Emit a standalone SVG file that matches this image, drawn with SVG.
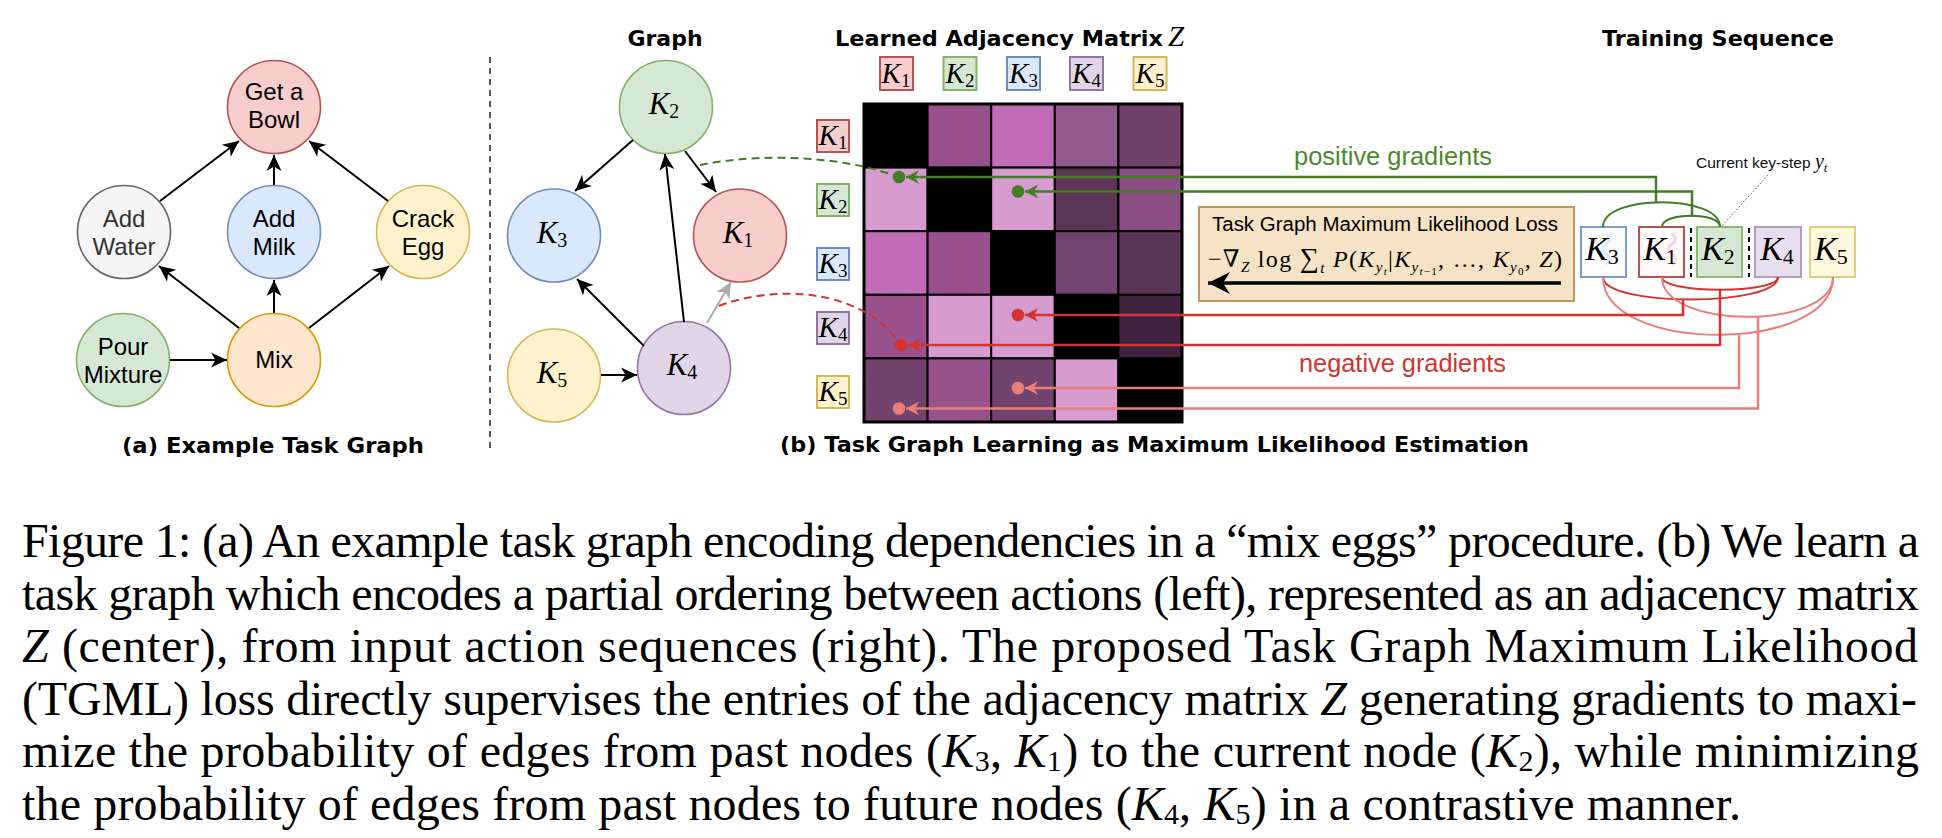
<svg xmlns="http://www.w3.org/2000/svg" width="1942" height="838" viewBox="0 0 1942 838">
<style>
.nt{font-family:"Liberation Sans",Arial,sans-serif;font-size:24px;text-anchor:middle;fill:#000}
.ttl{font-family:"DejaVu Sans",Verdana,sans-serif;font-weight:bold;font-size:22px;fill:#000}
.k{font-family:"Liberation Serif","DejaVu Serif",serif;font-style:italic;fill:#000;text-anchor:middle}
.sb{font-style:normal}
.ki{font-style:italic}
.cap{font-family:"Liberation Serif","Times New Roman",serif;font-size:48px;fill:#000}
.edge{fill:none;stroke:#000;stroke-width:2}
.c-red{fill:#f8cecc;stroke:#b85450;stroke-width:1.6}
.c-gray{fill:#f5f5f5;stroke:#666666;stroke-width:1.6}
.c-blue{fill:#dae8fc;stroke:#6c8ebf;stroke-width:1.6}
.c-yel{fill:#fff2cc;stroke:#d6b656;stroke-width:1.6}
.c-grn{fill:#d5e8d4;stroke:#82b366;stroke-width:1.6}
.c-org{fill:#ffe6cc;stroke:#d79b00;stroke-width:1.6}
.c-pur{fill:#e1d5e7;stroke:#9673a6;stroke-width:1.6}
.lb{stroke-width:2}
.cell{stroke:#000;stroke-width:2}
.g-line{fill:none;stroke:#437d24;stroke-width:2.5}
.r-line{fill:none;stroke:#d33430;stroke-width:2.5}
.s-line{fill:none;stroke:#ea7e79;stroke-width:2.5}
.g-arc{fill:none;stroke:#437d24;stroke-width:2}
.r-arc{fill:none;stroke:#d33430;stroke-width:2}
.s-arc{fill:none;stroke:#ea7e79;stroke-width:2}
</style>
<defs>
<marker id="ab" viewBox="-17 -9 18 18" refX="0" refY="0" markerWidth="18" markerHeight="18" markerUnits="userSpaceOnUse" orient="auto"><path d="M0,0 L-16,-7.5 L-11.5,0 L-16,7.5 Z" fill="#000"/></marker>
<marker id="ag" viewBox="-17 -9 18 18" refX="0" refY="0" markerWidth="18" markerHeight="18" markerUnits="userSpaceOnUse" orient="auto"><path d="M0,0 L-16,-7.5 L-11.5,0 L-16,7.5 Z" fill="#ababab"/></marker>
<marker id="mg" viewBox="-14 -8 15 16" refX="0" refY="0" markerWidth="15" markerHeight="16" markerUnits="userSpaceOnUse" orient="auto"><path d="M0,0 L-13,-7 L-9,0 L-13,7 Z" fill="#437d24"/></marker>
<marker id="mr" viewBox="-14 -8 15 16" refX="0" refY="0" markerWidth="15" markerHeight="16" markerUnits="userSpaceOnUse" orient="auto"><path d="M0,0 L-13,-7 L-9,0 L-13,7 Z" fill="#d33430"/></marker>
<marker id="ms" viewBox="-14 -8 15 16" refX="0" refY="0" markerWidth="15" markerHeight="16" markerUnits="userSpaceOnUse" orient="auto"><path d="M0,0 L-13,-7 L-9,0 L-13,7 Z" fill="#ea7e79"/></marker>
<marker id="mbig" viewBox="-23 -12 24 24" refX="0" refY="0" markerWidth="24" markerHeight="24" markerUnits="userSpaceOnUse" orient="auto"><path d="M0,0 L-22,-11 L-15,0 L-22,11 Z" fill="#000"/></marker>
</defs>
<rect width="1942" height="838" fill="#fff"/>

<!-- Panel (a) -->
<g id="node-bowl"><circle class="c-red" cx="274" cy="107" r="46.5"/><text class="nt" x="274" y="100">Get a</text><text class="nt" x="274" y="128">Bowl</text></g>
<g id="node-water"><circle class="c-gray" cx="124" cy="232" r="46.5"/><text class="nt" x="124" y="227" style="fill:#333">Add</text><text class="nt" x="124" y="255" style="fill:#333">Water</text></g>
<g id="node-milk"><circle class="c-blue" cx="274" cy="232" r="46.5"/><text class="nt" x="274" y="227">Add</text><text class="nt" x="274" y="255">Milk</text></g>
<g id="node-egg"><circle class="c-yel" cx="423" cy="232" r="46.5"/><text class="nt" x="423" y="227">Crack</text><text class="nt" x="423" y="255">Egg</text></g>
<g id="node-pour"><circle class="c-grn" cx="123" cy="360" r="46.5"/><text class="nt" x="123" y="355">Pour</text><text class="nt" x="123" y="383">Mixture</text></g>
<g id="node-mix"><circle class="c-org" cx="274" cy="360" r="46.5"/><text class="nt" x="274" y="368">Mix</text></g>
<text class="ttl" x="273" y="453" text-anchor="middle" textLength="302" lengthAdjust="spacingAndGlyphs">(a) Example Task Graph</text>
<line x1="490" y1="57" x2="490" y2="453" stroke="#222" stroke-width="1.5" stroke-dasharray="6,5"/>

<!-- Panel (b) graph -->
<text class="ttl" x="665" y="46" text-anchor="middle">Graph</text>
<g id="node-k2"><circle class="c-grn" cx="666" cy="107" r="46.5"/><text class="k" x="664" y="114" font-size="31">K<tspan class="sb" font-size="20" dy="4">2</tspan></text></g>
<g id="node-k3"><circle class="c-blue" cx="554" cy="235.5" r="46.5"/><text class="k" x="552" y="243" font-size="31">K<tspan class="sb" font-size="20" dy="4">3</tspan></text></g>
<g id="node-k1"><circle class="c-red" cx="740" cy="235.5" r="46.5"/><text class="k" x="738" y="243" font-size="31">K<tspan class="sb" font-size="20" dy="4">1</tspan></text></g>
<g id="node-k5"><circle class="c-yel" cx="554" cy="375.5" r="46.5"/><text class="k" x="552" y="383" font-size="31">K<tspan class="sb" font-size="20" dy="4">5</tspan></text></g>
<g id="node-k4"><circle class="c-pur" cx="684" cy="368" r="46.5"/><text class="k" x="682" y="375" font-size="31">K<tspan class="sb" font-size="20" dy="4">4</tspan></text></g>

<!-- Matrix -->
<text class="ttl" x="835" y="46" textLength="328" lengthAdjust="spacingAndGlyphs">Learned Adjacency Matrix</text>
<text class="k" x="1176" y="46" font-size="29">Z</text>
<g id="col-labels">
<rect class="c-red lb" x="880" y="57" width="33" height="33"/><text class="k" x="896" y="83" font-size="29">K<tspan class="sb" font-size="19" dy="4">1</tspan></text>
<rect class="c-grn lb" x="943.5" y="57" width="33" height="33"/><text class="k" x="960" y="83" font-size="29">K<tspan class="sb" font-size="19" dy="4">2</tspan></text>
<rect class="c-blue lb" x="1007" y="57" width="33" height="33"/><text class="k" x="1023.5" y="83" font-size="29">K<tspan class="sb" font-size="19" dy="4">3</tspan></text>
<rect class="c-pur lb" x="1070" y="57" width="33" height="33"/><text class="k" x="1086.5" y="83" font-size="29">K<tspan class="sb" font-size="19" dy="4">4</tspan></text>
<rect class="c-yel lb" x="1133.5" y="57" width="33" height="33"/><text class="k" x="1150" y="83" font-size="29">K<tspan class="sb" font-size="19" dy="4">5</tspan></text>
</g>
<g id="row-labels">
<rect class="c-red lb" x="817" y="120" width="32" height="32"/><text class="k" x="833" y="145" font-size="29">K<tspan class="sb" font-size="19" dy="4">1</tspan></text>
<rect class="c-grn lb" x="817" y="184" width="32" height="32"/><text class="k" x="833" y="209" font-size="29">K<tspan class="sb" font-size="19" dy="4">2</tspan></text>
<rect class="c-blue lb" x="817" y="248" width="32" height="32"/><text class="k" x="833" y="273" font-size="29">K<tspan class="sb" font-size="19" dy="4">3</tspan></text>
<rect class="c-pur lb" x="817" y="312" width="32" height="32"/><text class="k" x="833" y="337" font-size="29">K<tspan class="sb" font-size="19" dy="4">4</tspan></text>
<rect class="c-yel lb" x="817" y="376" width="32" height="32"/><text class="k" x="833" y="401" font-size="29">K<tspan class="sb" font-size="19" dy="4">5</tspan></text>
</g>
<g id="matrix">
<rect class="cell" x="864" y="104" width="63.6" height="63.6" fill="#000"/>
<rect class="cell" x="927.6" y="104" width="63.6" height="63.6" fill="#98518c"/>
<rect class="cell" x="991.2" y="104" width="63.6" height="63.6" fill="#c06cb6"/>
<rect class="cell" x="1054.8" y="104" width="63.6" height="63.6" fill="#935a8e"/>
<rect class="cell" x="1118.4" y="104" width="63.6" height="63.6" fill="#6f4068"/>
<rect class="cell" x="864" y="167.6" width="63.6" height="63.6" fill="#d69ccf"/>
<rect class="cell" x="927.6" y="167.6" width="63.6" height="63.6" fill="#000"/>
<rect class="cell" x="991.2" y="167.6" width="63.6" height="63.6" fill="#d69ccf"/>
<rect class="cell" x="1054.8" y="167.6" width="63.6" height="63.6" fill="#5b3657"/>
<rect class="cell" x="1118.4" y="167.6" width="63.6" height="63.6" fill="#8a4d84"/>
<rect class="cell" x="864" y="231.2" width="63.6" height="63.6" fill="#c06cb6"/>
<rect class="cell" x="927.6" y="231.2" width="63.6" height="63.6" fill="#98518c"/>
<rect class="cell" x="991.2" y="231.2" width="63.6" height="63.6" fill="#000"/>
<rect class="cell" x="1054.8" y="231.2" width="63.6" height="63.6" fill="#734470"/>
<rect class="cell" x="1118.4" y="231.2" width="63.6" height="63.6" fill="#5b3555"/>
<rect class="cell" x="864" y="294.8" width="63.6" height="63.6" fill="#9a528e"/>
<rect class="cell" x="927.6" y="294.8" width="63.6" height="63.6" fill="#d69ccf"/>
<rect class="cell" x="991.2" y="294.8" width="63.6" height="63.6" fill="#d69ccf"/>
<rect class="cell" x="1054.8" y="294.8" width="63.6" height="63.6" fill="#000"/>
<rect class="cell" x="1118.4" y="294.8" width="63.6" height="63.6" fill="#40243f"/>
<rect class="cell" x="864" y="358.4" width="63.6" height="63.6" fill="#71436d"/>
<rect class="cell" x="927.6" y="358.4" width="63.6" height="63.6" fill="#98528c"/>
<rect class="cell" x="991.2" y="358.4" width="63.6" height="63.6" fill="#71436d"/>
<rect class="cell" x="1054.8" y="358.4" width="63.6" height="63.6" fill="#d69ccf"/>
<rect class="cell" x="1118.4" y="358.4" width="63.6" height="63.6" fill="#000"/>
<rect x="864" y="104" width="318" height="318" fill="none" stroke="#000" stroke-width="3"/>
</g>
<text class="ttl" x="1154.5" y="452" text-anchor="middle" textLength="749" lengthAdjust="spacingAndGlyphs">(b) Task Graph Learning as Maximum Likelihood Estimation</text>

<!-- Loss box -->
<g id="loss-box">
<rect x="1199" y="207" width="375" height="94" fill="#f6e2c5" stroke="#c4965a" stroke-width="2"/>
<text x="1385" y="231" text-anchor="middle" font-family="Liberation Sans,Arial,sans-serif" font-size="20" textLength="346" lengthAdjust="spacingAndGlyphs">Task Graph Maximum Likelihood Loss</text>
<text x="1208" y="267" font-family="Liberation Serif,DejaVu Serif,serif" font-size="24" textLength="354" lengthAdjust="spacing">−∇<tspan class="ki" font-size="15" dy="5">Z</tspan><tspan dy="-5"> log </tspan><tspan font-size="27">∑</tspan><tspan class="ki" font-size="15" dy="6">t</tspan><tspan class="ki" dy="-6"> P</tspan>(<tspan class="ki">K</tspan><tspan class="ki" font-size="15" dy="5">y</tspan><tspan class="ki" font-size="11" dy="3">t</tspan><tspan dy="-8">|</tspan><tspan class="ki">K</tspan><tspan class="ki" font-size="15" dy="5">y</tspan><tspan font-size="11" dy="3"><tspan class="ki">t</tspan>−1</tspan><tspan dy="-8">, …, </tspan><tspan class="ki">K</tspan><tspan class="ki" font-size="15" dy="5">y</tspan><tspan font-size="11" dy="3">0</tspan><tspan dy="-8">, </tspan><tspan class="ki">Z</tspan>)</text>
<line x1="1561" y1="283" x2="1208" y2="283" stroke="#000" stroke-width="3.5" marker-end="url(#mbig)"/>
</g>

<!-- Training sequence -->
<text class="ttl" x="1718" y="46" text-anchor="middle" textLength="232" lengthAdjust="spacingAndGlyphs">Training Sequence</text>
<g id="seq-k3"><rect x="1581" y="227" width="45" height="50" fill="#fbfdff" stroke="#7c9bcc" stroke-width="2"/><path d="M1606,234 q7,5 0,10 q-7,5 0,10 q7,5 0,10" fill="none" stroke="#dfe9f8" stroke-width="3"/><text class="k" x="1602" y="260" font-size="34">K<tspan class="sb" font-size="22" dy="4">3</tspan></text></g>
<g id="seq-k1"><rect x="1639" y="227" width="45" height="50" fill="#fffafa" stroke="#b85450" stroke-width="2"/><path d="M1672,234 q7,5 0,10 q-7,5 0,10 q7,5 0,10" fill="none" stroke="#f6d8d8" stroke-width="3"/><text class="k" x="1660" y="260" font-size="34">K<tspan class="sb" font-size="22" dy="4">1</tspan></text></g>
<g id="seq-k2"><rect x="1697" y="227" width="45" height="50" fill="#d5e8d4" stroke="#8dbb73" stroke-width="2"/><text class="k" x="1718" y="260" font-size="34">K<tspan class="sb" font-size="22" dy="4">2</tspan></text></g>
<g id="seq-k4"><rect x="1755" y="227" width="46" height="50" fill="#e8deed" stroke="#b39bc4" stroke-width="2"/><text class="k" x="1777" y="260" font-size="34">K<tspan class="sb" font-size="22" dy="4">4</tspan></text></g>
<g id="seq-k5"><rect x="1810" y="227" width="45" height="50" fill="#fff7de" stroke="#e3cd85" stroke-width="2"/><text class="k" x="1831" y="260" font-size="34">K<tspan class="sb" font-size="22" dy="4">5</tspan></text></g>
<line x1="1691" y1="228" x2="1691" y2="277" stroke="#000" stroke-width="2" stroke-dasharray="5,4"/>
<line x1="1749" y1="228" x2="1749" y2="277" stroke="#000" stroke-width="2" stroke-dasharray="5,4"/>
<g id="current-label">
<text x="1696" y="168" font-family="Liberation Sans,Arial,sans-serif" font-size="15.5" fill="#111">Current key-step <tspan font-family="Liberation Serif,serif" font-style="italic" font-size="20">y</tspan><tspan font-family="Liberation Serif,serif" font-style="italic" font-size="13" dy="4">t</tspan></text>
<line x1="1768" y1="175" x2="1721" y2="227" stroke="#555" stroke-width="1" stroke-dasharray="1.5,2"/>
</g>
<text x="1294" y="165" font-family="Liberation Sans,Arial,sans-serif" font-size="25" fill="#4a8a2b" textLength="198" lengthAdjust="spacingAndGlyphs">positive gradients</text>
<text x="1299" y="372" font-family="Liberation Sans,Arial,sans-serif" font-size="25" fill="#d33430" textLength="207" lengthAdjust="spacingAndGlyphs">negative gradients</text>

<!-- Connectors -->
<g id="connectors">
<line class="edge" x1="160" y1="201" x2="239" y2="141" marker-end="url(#ab)"/>
<line class="edge" x1="274" y1="185" x2="274" y2="155" marker-end="url(#ab)"/>
<line class="edge" x1="388" y1="201" x2="309" y2="141" marker-end="url(#ab)"/>
<line class="edge" x1="239" y1="328" x2="159" y2="266" marker-end="url(#ab)"/>
<line class="edge" x1="274" y1="313" x2="274" y2="280" marker-end="url(#ab)"/>
<line class="edge" x1="309" y1="328" x2="389" y2="266" marker-end="url(#ab)"/>
<line class="edge" x1="170" y1="360" x2="227" y2="360" marker-end="url(#ab)"/>

<line class="edge" x1="633" y1="140" x2="575" y2="191" marker-end="url(#ab)"/>
<line class="edge" x1="685" y1="151" x2="716" y2="192" marker-end="url(#ab)"/>
<line class="edge" x1="684" y1="322" x2="665" y2="154" marker-end="url(#ab)"/>
<line class="edge" x1="644" y1="346" x2="577" y2="279" marker-end="url(#ab)"/>
<line class="edge" x1="601" y1="375" x2="637" y2="375" marker-end="url(#ab)"/>
<line x1="707" y1="323" x2="731" y2="282" fill="none" stroke="#ababab" stroke-width="2" marker-end="url(#ag)"/>

<path d="M700,165 C760,153 840,155 899,177" fill="none" stroke="#437d24" stroke-width="2" stroke-dasharray="8,5"/>
<path d="M719,306 C770,286 860,285 901,345" fill="none" stroke="#d33430" stroke-width="2" stroke-dasharray="8,5"/>

<path class="g-arc" d="M1603,227 C1603,194 1720,194 1720,227"/>
<path class="g-arc" d="M1662,227 C1662,212 1720,212 1720,227"/>
<path class="r-arc" d="M1603,277 C1603,307 1778,307 1778,277"/>
<path class="r-arc" d="M1662,277 C1662,294 1778,294 1778,277"/>
<path class="s-arc" d="M1603,277 C1603,354 1833,354 1833,277"/>
<path class="s-arc" d="M1662,277 C1662,330 1833,330 1833,277"/>

<path class="g-line" d="M1656,202 V177 H906" marker-end="url(#mg)"/>
<circle cx="899" cy="177" r="6.3" fill="#437d24"/>
<path class="g-line" d="M1692,217 V191.5 H1025" marker-end="url(#mg)"/>
<circle cx="1018" cy="191.5" r="6.3" fill="#437d24"/>
<path class="r-line" d="M1683,299 V315 H1025" marker-end="url(#mr)"/>
<circle cx="1018" cy="315" r="6.3" fill="#d33430"/>
<path class="r-line" d="M1720,290 V345 H908" marker-end="url(#mr)"/>
<circle cx="901" cy="345" r="6.3" fill="#d33430"/>
<path class="s-line" d="M1739,335 V388 H1025" marker-end="url(#ms)"/>
<circle cx="1018" cy="388" r="6.3" fill="#ea7e79"/>
<path class="s-line" d="M1758,317 V408.5 H906" marker-end="url(#ms)"/>
<circle cx="899" cy="408.5" r="6.3" fill="#ea7e79"/>
</g>

<!-- Caption -->
<g id="caption">
<text class="cap" x="22" y="557" textLength="1897" lengthAdjust="spacing">Figure 1: (a) An example task graph encoding dependencies in a “mix eggs” procedure. (b) We learn a</text>
<text class="cap" x="22" y="610" textLength="1897" lengthAdjust="spacing">task graph which encodes a partial ordering between actions (left), represented as an adjacency matrix</text>
<text class="cap" x="22" y="662" textLength="1896" lengthAdjust="spacing"><tspan class="ki">Z</tspan> (center), from input action sequences (right).  The proposed Task Graph Maximum Likelihood</text>
<text class="cap" x="22" y="715" textLength="1895" lengthAdjust="spacing">(TGML) loss directly supervises the entries of the adjacency matrix <tspan class="ki">Z</tspan> generating gradients to maxi-</text>
<text class="cap" x="22" y="767" textLength="1897" lengthAdjust="spacing">mize the probability of edges from past nodes (<tspan class="ki">K</tspan><tspan font-size="30" dy="4">3</tspan><tspan dy="-4">, </tspan><tspan class="ki">K</tspan><tspan font-size="30" dy="4">1</tspan><tspan dy="-4">) to the current node (</tspan><tspan class="ki">K</tspan><tspan font-size="30" dy="4">2</tspan><tspan dy="-4">), while minimizing</tspan></text>
<text class="cap" x="22" y="820" textLength="1719" lengthAdjust="spacing">the probability of edges from past nodes to future nodes (<tspan class="ki">K</tspan><tspan font-size="30" dy="4">4</tspan><tspan dy="-4">, </tspan><tspan class="ki">K</tspan><tspan font-size="30" dy="4">5</tspan><tspan dy="-4">) in a contrastive manner.</tspan></text>
</g>
</svg>
